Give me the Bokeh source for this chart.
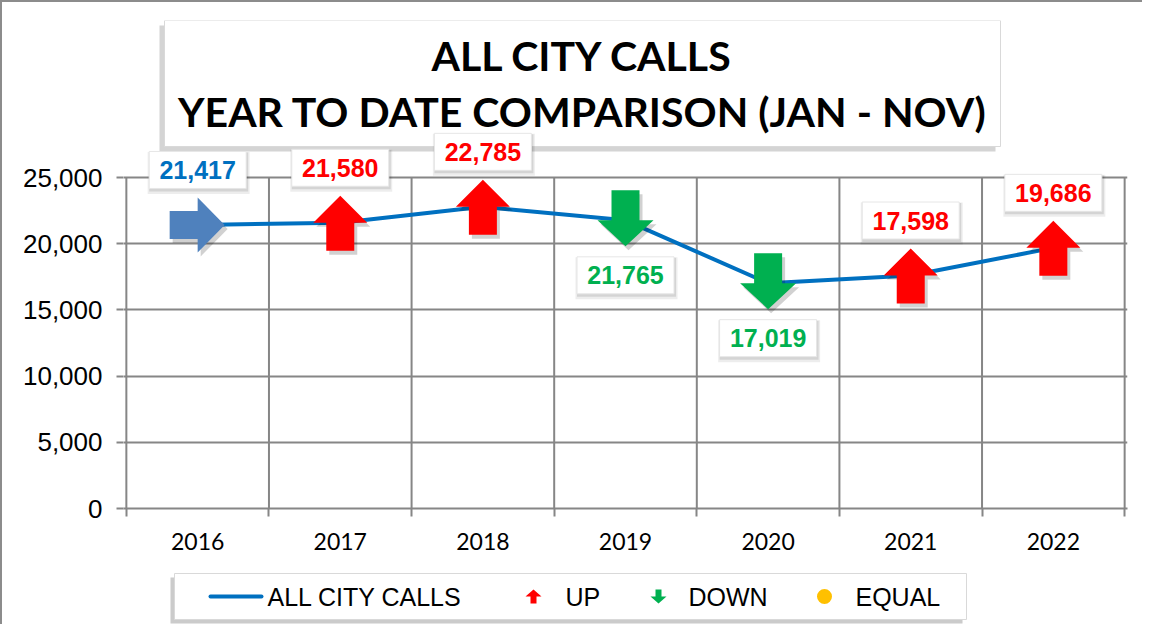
from bokeh.plotting import figure
from bokeh.layouts import column
from bokeh.models import Range1d, FixedTicker, NumeralTickFormatter, ColumnDataSource
from bokeh.core.properties import value
from bokeh.embed import file_html
from bokeh.resources import INLINE

# ---- data ----
years = ["2016", "2017", "2018", "2019", "2020", "2021", "2022"]
calls = [21417, 21580, 22785, 21765, 17019, 17598, 19686]
trend = ["start", "up", "up", "down", "down", "up", "up"]
y_ticks = [0, 5000, 10000, 15000, 20000, 25000]
title_lines = ["ALL CITY CALLS", "YEAR TO DATE COMPARISON (JAN - NOV)"]
legend_labels = ["ALL CITY CALLS", "UP", "DOWN", "EQUAL"]

# ---- colours ----
LINE_C = "#0070C0"
UP_C = "#FF0000"
DOWN_C = "#00B050"
EQ_C = "#FFC000"
START_C = "#4F81BD"
GRID_C = "#868686"
label_colors = {"start": LINE_C, "up": UP_C, "down": DOWN_C}

# ---- geometry (canvas px) ----
W = 1140
ML, MR, MT, MB = 121, 15, 18, 62
FH = 488
H1 = MT + FH + MB
H2 = 54
FW = W - ML - MR
n = len(years)
X0, X1 = -0.02, n + 0.02
Y0 = 0
Y1 = y_ticks[-1] * FH / 331.0
kx = FW / (X1 - X0)
ky = FH / (Y1 - Y0)

def xd(cx):
    return X0 + (cx - ML) / kx

def yd(cy):
    return Y1 - (cy - MT) / ky

p = figure(width=W, height=H1, output_backend="svg", toolbar_location=None,
           x_range=Range1d(X0, X1), y_range=Range1d(Y0, Y1),
           min_border_left=ML, min_border_right=MR, min_border_top=MT, min_border_bottom=MB,
           background_fill_color="white", border_fill_color="white")
p.outline_line_color = None
p.xgrid.visible = False

# axes
centers = [i + 0.5 for i in range(n)]
bounds = list(range(n + 1))
p.xaxis.ticker = FixedTicker(ticks=centers, minor_ticks=bounds)
p.xaxis.major_label_overrides = {c: y for c, y in zip(centers, years)}
p.xaxis.major_tick_line_color = None
p.xaxis.minor_tick_line_color = GRID_C
p.xaxis.minor_tick_line_width = 2
p.xaxis.minor_tick_in = 0
p.xaxis.minor_tick_out = 8
p.xaxis.axis_line_color = GRID_C
p.xaxis.axis_line_width = 2
p.xaxis.major_label_text_font = "Lato"
p.xaxis.major_label_text_font_size = "23px"
p.xaxis.major_label_text_color = "black"
p.xaxis.major_label_standoff = 16

p.yaxis.ticker = FixedTicker(ticks=y_ticks, minor_ticks=[])
p.yaxis.formatter = NumeralTickFormatter(format="0,0")
p.yaxis.axis_line_color = None
p.yaxis.major_tick_line_color = GRID_C
p.yaxis.major_tick_line_width = 2
p.yaxis.major_tick_in = 0
p.yaxis.major_tick_out = 7
p.yaxis.minor_tick_line_color = None
p.yaxis.major_label_text_font = "Liberation Sans"
p.yaxis.major_label_text_font_size = "26px"
p.yaxis.major_label_text_color = "black"
p.yaxis.major_label_standoff = 14

p.ygrid.grid_line_color = GRID_C
p.ygrid.grid_line_width = 2

# vertical grid lines + y axis line (only up to the top tick)
p.segment(x0=bounds, y0=[y_ticks[0]] * len(bounds), x1=bounds, y1=[y_ticks[-1]] * len(bounds),
          line_color=GRID_C, line_width=2)

# ---- title box ----
p.quad(left=[xd(157)], right=[xd(993)], top=[yd(23)], bottom=[yd(149)],
       fill_color="#b0b0b0", fill_alpha=0.55, line_color=None)
p.quad(left=[xd(162)], right=[xd(998)], top=[yd(18)], bottom=[yd(144)],
       fill_color="white", line_color="#d9d9d9", line_width=1)
p.text(x=[xd(580), xd(580)], y=[yd(53), yd(109)], text=title_lines,
       text_font=value("Lato"), text_font_style="bold", text_font_size="41px",
       text_color="black", text_align="center", text_baseline="middle")

# ---- line ----
line_r = p.line(centers, calls, line_color=LINE_C, line_width=4)

# ---- arrows ----
up_shape = [(-14, -28), (-14, 0), (-27, 0), (0, 27), (27, 0), (14, 0), (14, -28)]
down_shape = [(-14, 30), (14, 30), (14, 0), (28, 0), (0, -26), (-28, 0), (-14, 0)]
right_shape = [(-28, 14), (0, 14), (0, 27.5), (27, 0), (0, -27.5), (0, -14), (-28, -14)]
shapes = {"up": (up_shape, UP_C), "down": (down_shape, DOWN_C), "start": (right_shape, START_C)}

sx, sy, axs, ays, acol = [], [], [], [], []
for c, v, t in zip(centers, calls, trend):
    shp, col = shapes[t]
    axs.append([c + px / kx for px, py in shp])
    ays.append([v + py / ky for px, py in shp])
    sx.append([c + (px + 3) / kx for px, py in shp])
    sy.append([v + (py - 4) / ky for px, py in shp])
    acol.append(col)
p.patches(sx, sy, fill_color="black", fill_alpha=0.18, line_color=None)
p.patches(axs, ays, fill_color=acol, line_color=None)

# ---- data labels ----
lab_y = []
for v, t in zip(calls, trend):
    off = 55 if t != "down" else -55
    lab_y.append(v + off / ky)
lab_src = ColumnDataSource(dict(x=centers, y=lab_y, text=[f"{v:,}" for v in calls],
                                color=[label_colors[t] for t in trend]))
p.rect(x=[c + 1 / kx for c in centers], y=[y - 3 / ky for y in lab_y], width=102, height=42,
       width_units="screen", height_units="screen", fill_color="black", fill_alpha=0.07, line_color=None)
p.rect(x=[c + 1 / kx for c in centers], y=[y - 2 / ky for y in lab_y], width=99, height=39,
       width_units="screen", height_units="screen", fill_color="black", fill_alpha=0.10, line_color=None)
p.rect(x="x", y="y", width=97, height=37, width_units="screen", height_units="screen",
       fill_color="white", line_color="#e6e6e6", source=lab_src)
p.text(x="x", y="y", text="text", text_color="color", source=lab_src,
       text_font=value("Liberation Sans"), text_font_style="bold", text_font_size="25px",
       text_align="center", text_baseline="middle")

# ---- legend panel (own figure below; its frame is aligned with the main frame,
#      so its x range is expressed in canvas pixels ML .. W-MR) ----
q = figure(width=W, height=H2, output_backend="svg", toolbar_location=None,
           x_range=Range1d(ML, W - MR), y_range=Range1d(H2, 0),
           x_axis_type=None, y_axis_type=None, min_border=0,
           min_border_left=ML, min_border_right=MR,
           background_fill_color="white", border_fill_color="white")
q.outline_line_color = None
q.grid.visible = False

LY = 26
q.quad(left=[168], right=[960], top=[7], bottom=[53], fill_color="#a8a8a8", fill_alpha=0.6, line_color=None)
q.quad(left=[172], right=[964], top=[3], bottom=[49], fill_color="white", line_color="#d9d9d9")
q.line([208, 259], [LY, LY], line_color=LINE_C, line_width=4, line_cap="round")
up_icon = [(-3, 7), (-3, 0), (-8, 0), (0, -7), (8, 0), (3, 0), (3, 7)]
down_icon = [(-3, -7), (3, -7), (3, 0), (8, 0), (0, 7), (-8, 0), (-3, 0)]
q.patch([531 + a for a, b in up_icon], [LY + b for a, b in up_icon], fill_color=UP_C, line_color=None)
q.patch([656 + a for a, b in down_icon], [LY + b for a, b in down_icon], fill_color=DOWN_C, line_color=None)
q.scatter([822], [LY], marker="circle", size=15, fill_color=EQ_C, line_color=None)
q.text(x=[265, 563, 686, 853], y=[LY] * 4, text=legend_labels,
       text_font=value("Liberation Sans"), text_font_size="25px", text_color="black",
       text_align="left", text_baseline="middle")

layout = column(p, q, spacing=0,
                styles={"border-left": "2px solid #8c8c8c", "border-top": "2px solid #8c8c8c"})
open("out.html", "w").write(file_html(layout, INLINE))
